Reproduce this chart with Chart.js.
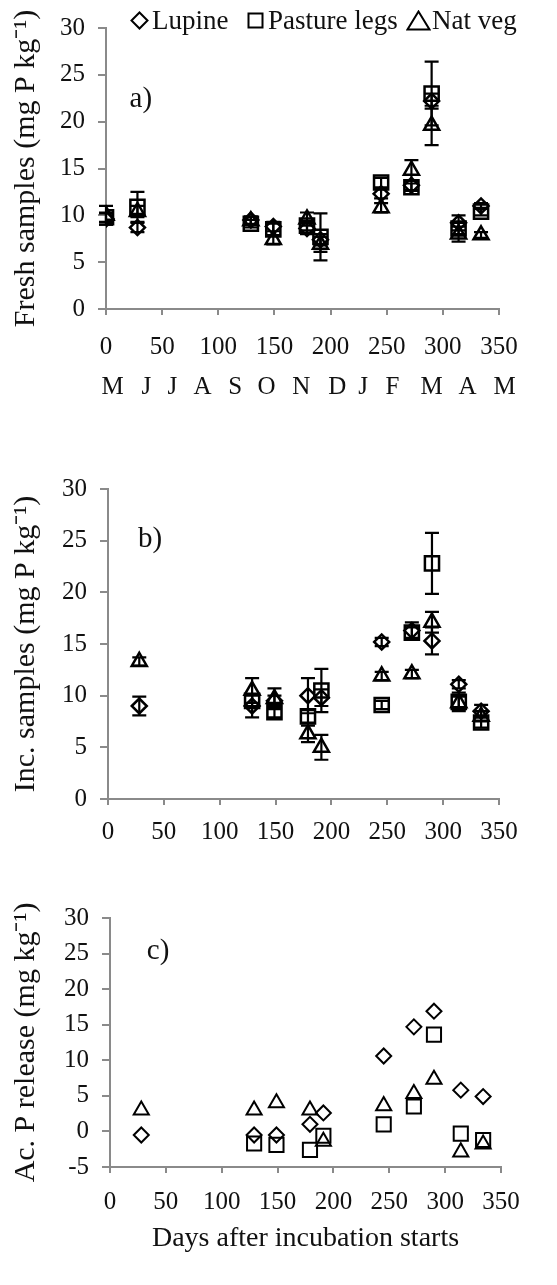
<!DOCTYPE html>
<html>
<head>
<meta charset="utf-8">
<script src="https://cdn.jsdelivr.net/npm/chart.js@4.4.1/dist/chart.umd.min.js"></script>
<style>
  body { margin: 0; background: #fff; width: 557px; height: 1285px; position: relative; overflow: hidden; font-family: 'Liberation Serif', serif; color: #111; }
  canvas { position: absolute; left: 0; }
  .txt { position: absolute; top: 3px; font-size: 27px; line-height: 34px; white-space: nowrap; }
  .sym { position: absolute; }
</style>
</head>
<body>
<canvas id="chartA" width="557" height="420" style="top:0px"></canvas>
<canvas id="chartB" width="557" height="420" style="top:440px"></canvas>
<canvas id="chartC" width="557" height="390" style="top:880px"></canvas>
<svg class="sym" style="left:130px;top:11px" width="19" height="19"><polygon points="9.5,1.5 17.5,9.5 9.5,17.5 1.5,9.5" fill="none" stroke="#000" stroke-width="2"/></svg>
<div class="txt" style="left:152px">Lupine</div>
<svg class="sym" style="left:247px;top:12px" width="17" height="17"><rect x="1.5" y="1.5" width="14" height="14" fill="none" stroke="#000" stroke-width="2"/></svg>
<div class="txt" style="left:268px">Pasture legs</div>
<svg class="sym" style="left:406px;top:10px" width="25" height="21"><polygon points="12.5,1.5 23.5,19.5 1.5,19.5" fill="none" stroke="#000" stroke-width="2"/></svg>
<div class="txt" style="left:432px">Nat veg</div>
<script>
// --- Data ---
const seriesNames = ['Lupine', 'Pasture legs', 'Nat veg'];
const daysA = [0, 28, 129, 149, 179, 191, 245, 272, 290, 314, 334];
const days = [28, 129, 149, 179, 191, 245, 272, 290, 314, 334];

// a) fresh samples
const freshLupine  = [9.6, 8.7, 9.5, 8.8, 8.6, 7.4, 12.3, 13.2, 22.2, 9.2, 11.0];
const freshPasture = [9.8, 10.9, 9.1, 8.5, 8.9, 7.7, 13.5, 13.0, 23.0, 8.6, 10.4];
const freshNatveg  = [10.0, 10.4, 9.4, 7.4, 9.6, 6.9, 10.8, 14.8, 19.6, 8.0, 7.9];
const freshLupineErr  = [0.6, 0.5, 0.4, 0.5, 0.6, 0.6, 0.5, 0.5, 0.8, 0.8, 0.3];
const freshPastureErr = [0.5, 1.6, 0.4, 0.6, 0.5, 2.5, 0.5, 0.4, 3.4, 0.6, 0.4];
const freshNatvegErr  = [1.0, 0.6, 0.4, 0.5, 0.7, 0.8, 0.5, 1.1, 2.1, 0.8, 0.3];

// b) incubated samples
const incLupine  = [9.0, 9.0, 9.5, 10.0, 9.8, 15.2, 16.3, 15.3, 11.1, 8.5];
const incPasture = [null, 9.5, 8.4, 8.0, 10.5, 9.1, 16.1, 22.8, 9.4, 7.4];
const incNatveg  = [13.3, 10.5, 9.7, 6.3, 5.0, 11.9, 12.1, 17.1, 9.3, 8.0];
const incLupineErr  = [0.9, 1.1, 0.5, 1.7, 0.8, 0.4, 0.8, 1.3, 0.4, 0.6];
const incPastureErr = [0, 0.5, 0.5, 0.6, 2.1, 0.4, 0.5, 2.95, 0.9, 0.5];
const incNatvegErr  = [0.4, 1.2, 1.0, 0.8, 1.2, 0.4, 0.4, 1.0, 0.6, 0.5];

// c) accumulated P release
const relLupine  = [-0.5, -0.5, -0.5, 1.0, 2.6, 10.6, 14.7, 16.9, 5.8, 4.9];
const relPasture = [null, -1.7, -1.9, -2.6, -0.6, 1.0, 3.5, 13.6, -0.3, -1.2];
const relNatveg  = [3.0, 3.0, 4.0, 3.0, -1.4, 3.6, 5.3, 7.3, -2.9, -1.8];

const xTicks = [0, 50, 100, 150, 200, 250, 300, 350];
const monthLabels = ['M', 'J', 'J', 'A', 'S', 'O', 'N', 'D', 'J', 'F', 'M', 'A', 'M'];
const monthLabelDays = [6, 36, 59, 86, 115, 143, 174, 206, 229, 255, 290, 322, 355];

// --- Styling ---
const FONT = 'Liberation Serif';
const TEXT = '#111';
const AXIS = '#8a8a8a';
const markers = [
  { pointStyle: 'rectRot', pointRadius: 7.5 },
  { pointStyle: 'rect', pointRadius: 10 },
  { pointStyle: 'triangle', pointRadius: 8.7 }
];

function points(xs, ys, errs) {
  const out = [];
  xs.forEach((x, i) => {
    if (ys[i] === null) return;
    out.push({ x: x, y: ys[i], e: errs ? errs[i] : 0 });
  });
  return out;
}

// error bars drawn with the chart's own scales
const errorBars = {
  id: 'errorBars',
  afterDatasetsDraw(chart) {
    const { ctx, scales: { x, y } } = chart;
    ctx.save();
    ctx.strokeStyle = '#000';
    ctx.lineWidth = 2.2;
    chart.data.datasets.forEach(ds => {
      ds.data.forEach(p => {
        if (!p.e) return;
        const px = x.getPixelForValue(p.x);
        const top = y.getPixelForValue(p.y + p.e);
        const bot = y.getPixelForValue(p.y - p.e);
        ctx.beginPath();
        ctx.moveTo(px, top); ctx.lineTo(px, bot);
        ctx.moveTo(px - 7, top); ctx.lineTo(px + 7, top);
        ctx.moveTo(px - 7, bot); ctx.lineTo(px + 7, bot);
        ctx.stroke();
      });
    });
    ctx.restore();
  }
};

// "a)", "b)", "c)" placed in data units
const panelLabel = {
  id: 'panelLabel',
  afterDraw(chart, args, opts) {
    if (!opts.text) return;
    const { ctx, scales: { x, y } } = chart;
    ctx.save();
    ctx.font = '29px "' + FONT + '"';
    ctx.fillStyle = TEXT;
    ctx.textAlign = 'center';
    ctx.textBaseline = 'middle';
    ctx.fillText(opts.text, x.getPixelForValue(opts.x), y.getPixelForValue(opts.y));
    ctx.restore();
  }
};

function makeChart(id, p) {
  const datasets = p.series.map((s, i) => ({
    label: seriesNames[i],
    data: s,
    pointStyle: markers[i].pointStyle,
    pointRadius: markers[i].pointRadius,
    pointHoverRadius: markers[i].pointRadius,
    borderColor: '#000',
    backgroundColor: 'rgba(0,0,0,0)',
    borderWidth: p.markerWidth,
    showLine: false
  }));

  const scales = {
    x: {
      type: 'linear', min: 0, max: 350,
      afterBuildTicks: s => { s.ticks = xTicks.map(v => ({ value: v })); },
      ticks: { color: TEXT, font: { family: FONT, size: 25 }, padding: p.xPad, maxRotation: 0, autoSkip: false },
      grid: { drawOnChartArea: false, tickLength: 6, color: AXIS, lineWidth: 2 },
      border: { color: AXIS, width: 2 },
      title: p.xTitle ? { display: true, text: p.xTitle, color: TEXT, font: { family: FONT, size: 28 }, padding: { top: 0, bottom: 15 } } : { display: false },
      afterFit: s => { s.height = p.xHeight; }
    },
    y: {
      min: p.yMin, max: 30,
      afterBuildTicks: s => {
        const t = [];
        for (let v = p.yMin; v <= 30; v += 5) t.push({ value: v });
        s.ticks = t;
      },
      ticks: { color: TEXT, font: { family: FONT, size: 25 }, padding: 13 },
      grid: { drawOnChartArea: false, tickLength: 8, color: AXIS, lineWidth: 2 },
      border: { color: AXIS, width: 2 },
      title: { display: true, text: p.yTitle, color: TEXT, font: { family: FONT, size: 30 }, padding: { top: 8, bottom: 0 } },
      afterFit: s => { s.width = p.left; }
    }
  };

  if (p.months) {
    scales.x2 = {
      type: 'linear', position: 'bottom', min: 0, max: 350, weight: 1,
      afterBuildTicks: s => { s.ticks = monthLabelDays.map(v => ({ value: v })); },
      ticks: { color: TEXT, font: { family: FONT, size: 25 }, padding: 8, maxRotation: 0, autoSkip: false,
               callback: (v, i) => monthLabels[i] },
      grid: { display: false, drawTicks: false },
      border: { display: false },
      afterFit: s => { s.height = 56; }
    };
  }

  return new Chart(document.getElementById(id), {
    type: 'scatter',
    data: { datasets: datasets },
    options: {
      responsive: false,
      animation: false,
      layout: { padding: { top: p.top, right: p.right, left: 0, bottom: 0 } },
      scales: scales,
      plugins: {
        legend: { display: false },
        tooltip: { enabled: false },
        panelLabel: p.label
      }
    },
    plugins: [errorBars, panelLabel]
  });
}

makeChart('chartA', {
  series: [points(daysA, freshLupine, freshLupineErr), points(daysA, freshPasture, freshPastureErr), points(daysA, freshNatveg, freshNatvegErr)],
  yMin: 0, yTitle: 'Fresh samples (mg P kg\u207B\u00B9)',
  left: 106, right: 58, top: 18, xHeight: 55, xPad: 17, months: true, markerWidth: 2.5,
  label: { text: 'a)', x: 31, y: 22.4 }
});

makeChart('chartB', {
  series: [points(days, incLupine, incLupineErr), points(days, incPasture, incPastureErr), points(days, incNatveg, incNatvegErr)],
  yMin: 0, yTitle: 'Inc. samples (mg P kg\u207B\u00B9)',
  left: 108, right: 58, top: 49, xHeight: 61, xPad: 12, months: false, markerWidth: 2.5,
  label: { text: 'b)', x: 37.6, y: 25.1 }
});

makeChart('chartC', {
  series: [points(days, relLupine), points(days, relPasture), points(days, relNatveg)],
  yMin: -5, yTitle: 'Ac. P release (mg kg\u207B\u00B9)',
  left: 110, right: 56, top: 38, xHeight: 103, xPad: 14, months: false, markerWidth: 2,
  xTitle: 'Days after incubation starts',
  label: { text: 'c)', x: 43, y: 25.3 }
});
</script>
</body>
</html>
